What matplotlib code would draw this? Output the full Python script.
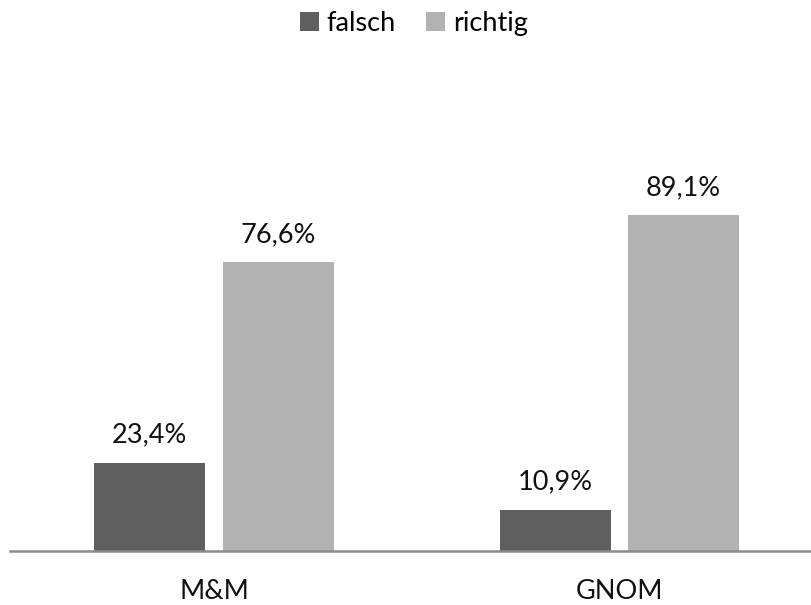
import matplotlib.pyplot as plt
import numpy as np

plt.rcParams['font.family'] = ['Lato', 'DejaVu Sans']

kategorien = ["M&M", "GNOM"]
falsch = [23.4, 10.9]
richtig = [76.6, 89.1]

farbe_falsch = '#5f5f5f'
farbe_richtig = '#b2b2b2'

fig = plt.figure(figsize=(8.11, 6.05), dpi=100)
ax = fig.add_axes([10 / 811, 54 / 605, 801 / 811, 377 / 605])

x = np.arange(len(kategorien))
breite = 0.274
versatz = 0.158

b1 = ax.bar(x - versatz, falsch, breite, color=farbe_falsch, label='falsch')
b2 = ax.bar(x + versatz, richtig, breite, color=farbe_richtig, label='richtig')

# Werte über den Balken
for balken, werte in ((b1, falsch), (b2, richtig)):
    for rect, w in zip(balken, werte):
        ax.annotate(f"{w:.1f}%".replace('.', ','),
                    (rect.get_x() + rect.get_width() / 2, rect.get_height()),
                    xytext=(0, 11), textcoords='offset points',
                    ha='center', va='bottom', fontsize=19.5, color='#111111',
                    annotation_clip=False)

ax.set_xlim(-0.503, 1.472)
ax.set_ylim(0, 100)
ax.set_xticks(x)
ax.set_xticklabels(kategorien, fontsize=19.5, color='#111111')
ax.tick_params(axis='x', length=0, pad=20)
ax.set_yticks([])

for s in ('top', 'right', 'left'):
    ax.spines[s].set_visible(False)
ax.spines['bottom'].set_color('#8c8c8c')
ax.spines['bottom'].set_linewidth(1.8)

fig.legend(loc='upper center', bbox_to_anchor=(0.51, 1.0), ncol=2, frameon=False,
           fontsize=19.5, handlelength=0.7, handleheight=0.7, handletextpad=0.3,
           columnspacing=1.1, borderaxespad=0.0)

fig.savefig('out.png', dpi=100)
